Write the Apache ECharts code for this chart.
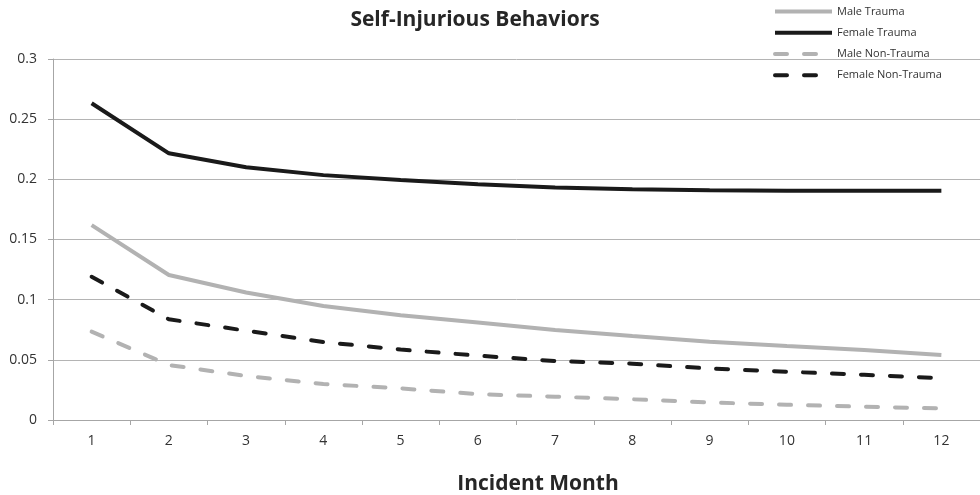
<!DOCTYPE html>
<html><head><meta charset="utf-8">
<script src="https://cdn.jsdelivr.net/npm/echarts@6/dist/echarts.min.js"></script>
<style>html,body{margin:0;padding:0;background:#fff}#c{width:980px;height:495px}</style>
</head><body><div id="c"></div>
<script>
const months = ['1','2','3','4','5','6','7','8','9','10','11','12'];
const maleTrauma = [0.162,0.1205,0.106,0.0947,0.087,0.081,0.0748,0.0698,0.0651,0.0615,0.0582,0.054];
const femaleTrauma = [0.2632,0.2216,0.210,0.2035,0.1994,0.196,0.1932,0.1917,0.1909,0.1906,0.1905,0.1906];
const maleNonTrauma = [0.0734,0.0457,0.0366,0.0299,0.0263,0.0215,0.0194,0.0172,0.0146,0.0127,0.011,0.0097];
const femaleNonTrauma = [0.119,0.0837,0.0742,0.0648,0.0585,0.0535,0.049,0.0468,0.0428,0.0401,0.0376,0.0348];
const yTicks = {min:0, max:0.3, interval:0.05};

const GRAY = '#b2b2b2', BLACK = '#1a1a1a';
const FONT = '"Open Sans"';
function s(name, data, color, dashed){
  return {name, type:'line', data, symbol:'none', smooth:false,
    lineStyle:{color, width:4, type: dashed ? [12,17] : 'solid', cap: dashed ? 'round':'butt'},
    itemStyle:{color}};
}
const chart = echarts.init(document.getElementById('c'), null, {renderer:'canvas'});
chart.setOption({
  animation:false,
  backgroundColor:'#fff',
  textStyle:{fontFamily:FONT},
  title:[
    {text:'Self-Injurious Behaviors', left:470, textAlign:'center', top:5,
     textStyle:{fontFamily:FONT, fontWeight:'bold', fontSize:21, color:'#262626'}},
    {text:'Incident Month', left:533, textAlign:'center', top:469,
     textStyle:{fontFamily:FONT, fontWeight:'bold', fontSize:21, color:'#262626'}}
  ],
  legend:{orient:'vertical', left:773, top:6, padding:0, itemGap:10, itemWidth:57, itemHeight:14,
    itemStyle:{opacity:0},
    lineStyle:{width:4},
    textStyle:{fontFamily:FONT, fontSize:11, color:'#333'},
    data:['Male Trauma','Female Trauma','Male Non-Trauma','Female Non-Trauma']},
  grid:{left:53, right:-9, top:59, bottom:75},
  xAxis:{type:'category', data:months, boundaryGap:true,
    axisLine:{lineStyle:{color:'#a6a6a6', width:1}},
    axisTick:{show:true, length:5, interval:0, lineStyle:{color:'#a6a6a6'}},
    axisLabel:{fontFamily:FONT, fontSize:14, color:'#333', margin:14}},
  yAxis:{type:'value', min:yTicks.min, max:yTicks.max, interval:yTicks.interval,
    axisLine:{show:true, lineStyle:{color:'#a6a6a6'}},
    axisTick:{show:true, length:5, lineStyle:{color:'#a6a6a6'}},
    splitLine:{lineStyle:{color:'#b4b4b4', width:1}},
    axisLabel:{fontFamily:FONT, fontSize:14, color:'#333', margin:16}},
  series:[
    s('Male Trauma', maleTrauma, GRAY, false),
    s('Female Trauma', femaleTrauma, BLACK, false),
    s('Male Non-Trauma', maleNonTrauma, GRAY, true),
    s('Female Non-Trauma', femaleNonTrauma, BLACK, true)
  ]
});
</script></body></html>
